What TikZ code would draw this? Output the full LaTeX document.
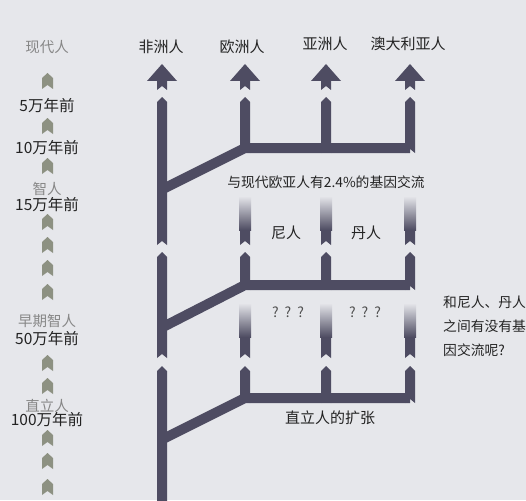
\documentclass[tikz,border=0pt]{standalone}
\usepackage{fontspec}
\setmainfont{Noto Sans CJK SC}

\definecolor{bgcol}{RGB}{230,231,235}
\definecolor{barcol}{RGB}{78,76,98}
\definecolor{agecol}{RGB}{141,145,130}
\definecolor{eracol}{RGB}{135,135,135}
\definecolor{txtcol}{RGB}{35,35,35}

\tikzset{
  bar/.style={fill=barcol},
  barline/.style={draw=barcol, line width=10pt},
  agearrow/.style={fill=agecol},
  lbl/.style={font=\fontsize{15}{18}\selectfont, text=txtcol, inner sep=0pt},
  agelbl/.style={font=\fontsize{15.5}{18}\selectfont, text=txtcol, inner sep=0pt},
  eralbl/.style={font=\fontsize{14.5}{18}\selectfont, text=eracol, inner sep=0pt},
  note/.style={font=\fontsize{13.8}{16}\selectfont, text=txtcol, inner sep=0pt},
  qmark/.style={font=\fontsize{14}{16}\selectfont, text=txtcol!80, inner sep=0pt}
}

\begin{document}
\begin{tikzpicture}[x=1pt,y=-1pt]
    % Define column positions
    \def\xafr{162}
    \def\xeur{245}
    \def\xasi{326}
    \def\xaus{410}

    % Bar piece: pointed top, notched bottom (x, top, bottom)
    \def\chevseg#1#2#3{%
      \fill[bar] (#1-5,#2+5) -- (#1,#2) -- (#1+5,#2+5) -- (#1+5,#3) -- (#1,#3-4) -- (#1-5,#3) -- cycle;}

    % Background
    \fill[bgcol] (0,0) rectangle (526,500);
    \useasboundingbox (0,0) rectangle (526,500);

    % Draw time axis chevrons
    \foreach \ypos in {73,118,158,214,237,260,284,355,378,430,453,479} {
        \fill[agearrow] (42,\ypos+5) -- (47.5,\ypos) -- (53,\ypos+5) -- (53,\ypos+16) -- (47.5,\ypos+12) -- (42,\ypos+16) -- cycle;
    }

    % Draw time axis labels
    \foreach \name/\txt/\ypos in {a5/5万年前/106, a10/10万年前/148, a15/15万年前/205, a50/50万年前/339, a100/100万年前/420} {
        \node[agelbl] (\name) at (47,\ypos) {\txt};
    }
    \foreach \name/\txt/\ypos in {now/现代人/47, sap/智人/189, early/早期智人/321, erec/直立人/406} {
        \node[eralbl] (\name) at (47,\ypos) {\txt};
    }

    % Draw top arrows and population labels
    \foreach \x in {\xafr,\xeur,\xasi,\xaus} {
        \fill[bar] (\x,64) -- (\x+15,81) -- (\x+5,81) -- (\x+5,90) -- (\x,86) -- (\x-5,90) -- (\x-5,81) -- (\x-15,81) -- cycle;
    }
    \foreach \name/\x/\ypos/\txt in {afr/161/47/非洲人, eur/242/47/欧洲人, asi/325/44/亚洲人, aus/408/44/澳大利亚人} {
        \node[lbl] (\name) at (\x,\ypos) {\txt};
    }

    % Draw the three dispersals: diagonal, horizontal and stubs
    \foreach \ya/\yh/\ytop in {189.5/148/97, 327.5/285/252, 439.5/398/366} {
        \draw[barline] (\xafr,\ya) -- (\xeur,\yh) -- (\xaus,\yh);
        \foreach \x in {\xeur,\xasi,\xaus} {
            \chevseg{\x}{\ytop}{\yh+5}
        }
    }

    % Draw the African trunk
    \chevseg{\xafr}{97}{245}
    \chevseg{\xafr}{252}{358}
    \chevseg{\xafr}{366}{506}

    % Draw faded pieces
    \foreach \ytop/\ybot in {200/245, 307/358} {
        \foreach \x in {\xeur,\xasi,\xaus} {
            \chevseg{\x}{\ytop}{\ybot}
            \shade[top color=bgcol, bottom color=barcol] (\x-6,\ytop-4) rectangle (\x+6,\ytop+30);
        }
    }

    % Draw notes
    \node[note] (flow) at (326,182) {与现代欧亚人有2.4\%的基因交流};
    \node[lbl] (nean) at (286,233) {尼人};
    \node[lbl] (deni) at (366,233) {丹人};
    \node[qmark] (qa) at (288,312) {?\hspace{6pt}?\hspace{6pt}?};
    \node[qmark] (qb) at (365,312) {?\hspace{6pt}?\hspace{6pt}?};
    \node[lbl] (expand) at (330,418) {直立人的扩张};
    \node[note, anchor=west] (ask1) at (443,302) {和尼人、丹人};
    \node[note, anchor=west] (ask2) at (443,326) {之间有没有基};
    \node[note, anchor=west] (ask3) at (443,350) {因交流呢?};
\end{tikzpicture}
\end{document}
